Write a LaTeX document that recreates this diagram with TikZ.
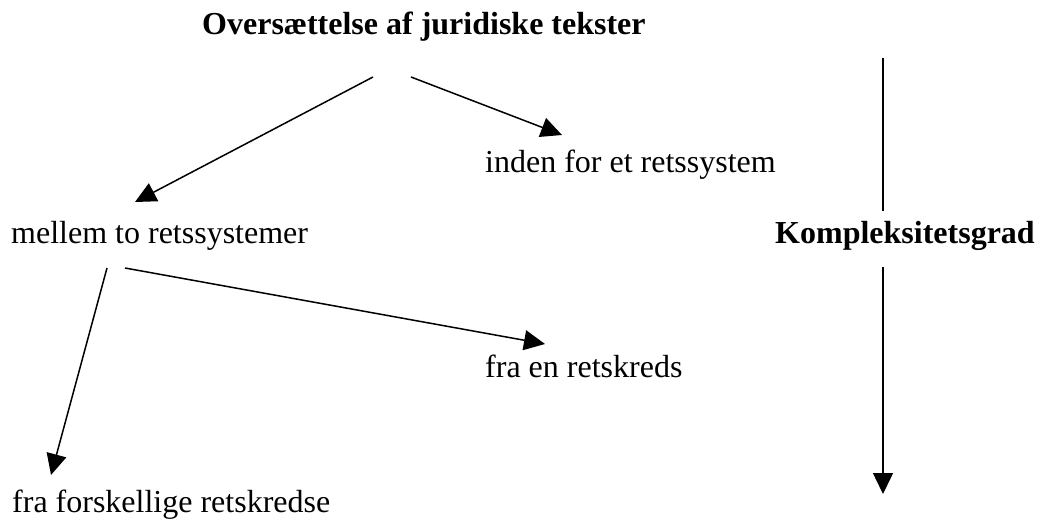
\documentclass[tikz,border=0pt]{standalone}
\usepackage{fontspec}
\setmainfont{Liberation Serif}
\usetikzlibrary{arrows.meta}
\begin{document}
\begin{tikzpicture}[x=1pt,y=-1pt,
  lbl/.style={inner sep=0pt,anchor=base west,font=\fontsize{32}{36}\selectfont},
  blbl/.style={lbl,font=\fontsize{32}{36}\selectfont\bfseries},
  arr/.style={line width=1.5pt,-{Triangle[length=21pt,width=20pt]}},
  plain/.style={line width=1.5pt}]
\useasboundingbox (0,0) rectangle (1039,524);
% labels
\node[blbl] (title) at (202,35) {Oversættelse af juridiske tekster};
\node[lbl] (inden) at (485,172) {inden for et retssystem};
\node[lbl] (mellem) at (11,243) {mellem to retssystemer};
\node[lbl] (en) at (485,377) {fra en retskreds};
\node[lbl] (forsk) at (12,512) {fra forskellige retskredse};
\node[blbl] (kompl) at (775,243) {Kompleksitetsgrad};
% arrow end points
\coordinate (t1) at (373,77);
\coordinate (t2) at (411,77);
\coordinate (a1) at (135,202);
\coordinate (a2) at (562,135);
\coordinate (m1) at (125,268);
\coordinate (m2) at (107,268);
\coordinate (b1) at (545,344);
\coordinate (b2) at (51,475);
\coordinate (k0) at (883,58);
\coordinate (k1) at (883,211);
\coordinate (k2) at (883,267);
\coordinate (k3) at (883,494);
% connectors
\draw[arr] (t1) -- (a1);
\draw[arr] (t2) -- (a2);
\draw[arr] (m1) -- (b1);
\draw[arr] (m2) -- (b2);
\draw[plain] (k0) -- (k1);
\draw[arr] (k2) -- (k3);
\end{tikzpicture}
\end{document}
